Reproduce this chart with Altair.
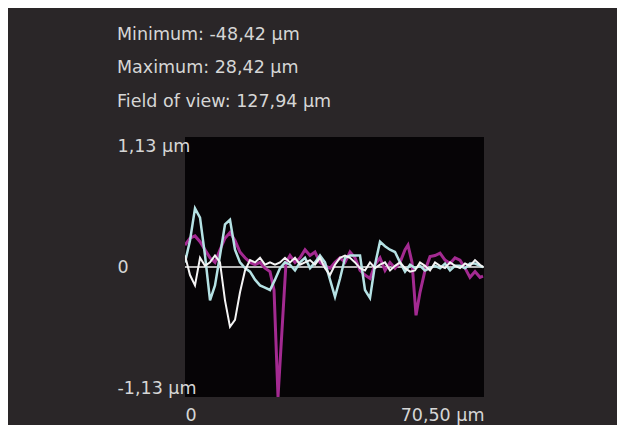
import altair as alt
import pandas as pd

# Shared x positions (µm) for the light-blue and white profiles
x_grid = [0, 1.18, 2.36, 3.54, 4.72, 5.90, 7.07, 8.25, 9.43, 10.61,
          11.79, 12.97, 14.15, 15.33, 16.51, 17.69, 18.86, 20.04, 21.22, 22.40,
          23.58, 24.76, 25.94, 27.12, 28.30, 29.48, 30.65, 31.83, 33.01, 34.19,
          35.37, 36.55, 37.73, 38.91, 40.09, 41.27, 42.44, 43.62, 44.80, 45.98,
          47.16, 48.34, 49.52, 50.70, 51.88, 53.06, 54.23, 55.41, 56.59, 57.77,
          58.95, 60.13, 61.31, 62.49, 63.67, 64.85, 66.03, 67.20, 68.38, 69.56,
          70.27]

cyan_y = [0.04, 0.23, 0.51, 0.43, 0.10, -0.29, -0.16, 0.10, 0.37, 0.41,
          0.15, 0.04, -0.01, -0.04, -0.11, -0.16, -0.18, -0.20, -0.11, -0.01,
          0.04, 0.02, -0.03, 0.04, 0.08, -0.01, 0.04, 0.10, 0.04, -0.11,
          -0.26, -0.10, 0.08, 0.10, 0.10, 0.10, -0.20, -0.27, 0.02, 0.22,
          0.18, 0.15, 0.13, 0.04, -0.04, 0.02, -0.01, 0.01, -0.03, -0.01,
          0.01, -0.01, 0.03, -0.03, 0.01, 0.01, -0.01, 0.03, 0.03, 0.01,
          0.0]

white_y = [0.10, -0.07, -0.16, 0.08, 0.01, 0.04, 0.10, 0.04, -0.29, -0.52,
           -0.46, -0.22, -0.03, 0.06, 0.04, 0.08, 0.02, 0.04, 0.02, 0.04,
           0.08, 0.04, 0.08, 0.02, 0.04, 0.06, 0.02, 0.08, -0.01, -0.07,
           0.02, 0.08, 0.10, 0.08, 0.04, -0.01, -0.03, 0.04, -0.01, 0.02,
           0.04, -0.03, 0.01, 0.04, -0.01, -0.04, -0.03, 0.04, 0.01, -0.03,
           0.04, 0.01, -0.01, 0.04, 0.01, -0.01, 0.03, 0.01, 0.06, 0.02,
           0.0]

magenta_x = [0, 1.18, 2.36, 3.54, 4.72, 5.90, 7.07, 8.25, 9.43, 10.61,
             11.79, 12.97, 14.15, 15.33, 16.51, 17.69, 18.86, 20.04, 20.99, 21.93,
             22.87, 23.82, 24.76, 25.94, 27.12, 28.30, 29.48, 30.65, 31.83, 33.01,
             34.19, 35.37, 36.55, 37.73, 38.91, 40.09, 41.27, 42.44, 43.62, 44.80,
             45.98, 47.16, 48.34, 49.52, 50.70, 51.88, 52.58, 53.53, 54.47, 55.41,
             56.59, 57.77, 58.95, 60.13, 61.31, 62.49, 63.67, 64.85, 66.03, 67.20,
             68.38, 69.56, 70.27]
magenta_y = [0.19, 0.25, 0.27, 0.22, 0.15, 0.08, 0.04, 0.15, 0.25, 0.30,
             0.23, 0.13, 0.08, 0.04, 0.02, 0.04, -0.01, -0.04, -0.20, -1.13,
             -0.55, 0.04, 0.10, 0.04, 0.08, 0.15, 0.10, 0.13, 0.04, 0.01,
             -0.01, 0.04, 0.08, 0.04, 0.13, 0.08, -0.03, -0.07, -0.10, 0.02,
             0.08, -0.03, 0.04, -0.01, 0.04, 0.15, 0.19, 0.04, -0.42, -0.22,
             -0.03, 0.09, 0.10, 0.12, 0.06, 0.03, 0.08, 0.06, -0.01, -0.09,
             -0.04, -0.09, -0.08]

title_lines = ["Minimum: -48,42 µm", "Maximum: 28,42 µm", "Field of view: 127,94 µm"]
y_ticks = [-1.13, 0, 1.13]
x_ticks = [0, 70.5]

series_names = ["magenta", "cyan", "white"]
series_colors = ["#a32a91", "#b5e2e4", "#f4f4f4"]
series_widths = [3.0, 2.0, 2.0]

rows = []
for xv, yv in zip(magenta_x, magenta_y):
    rows.append({"x": xv, "y": yv, "s": "magenta"})
for xv, yv in zip(x_grid, cyan_y):
    rows.append({"x": xv, "y": yv, "s": "cyan"})
for xv, yv in zip(x_grid, white_y):
    rows.append({"x": xv, "y": yv, "s": "white"})
df = pd.DataFrame(rows)
zero_df = pd.DataFrame({"y": [0]})

FONT = "DejaVu Sans"
TXT = "#d6d6d6"
FS = 17.5

xscale = alt.Scale(domain=[0, 70.5], nice=False, zero=False)
yscale = alt.Scale(domain=[-1.13, 1.13], nice=False, zero=False)

label_expr = ("datum.value == 0 ? '0' : (datum.value < 0 ? '-' : '') + "
              "replace(format(abs(datum.value), '.2f'), '.', ',') + ' µm'")

xaxis = alt.Axis(values=x_ticks, labelExpr=label_expr, domain=False, ticks=False,
                 grid=False, labelFlush=True, labelPadding=9, labelFont=FONT,
                 labelFontSize=FS, labelColor=TXT, labelOverlap=False, title=None)
yaxis = alt.Axis(values=y_ticks, labelExpr=label_expr, domain=False, ticks=False,
                 grid=False, labelFlush=True, labelAlign="left", labelPadding=68,
                 labelFont=FONT, labelFontSize=FS, labelColor=TXT,
                 labelOverlap=False, title=None)

zero_rule = alt.Chart(zero_df).mark_rule(color="#f0f0f0", strokeWidth=1.3).encode(
    y=alt.Y("y:Q", scale=yscale, axis=yaxis)
)

lines = alt.Chart(df).mark_line(clip=True).encode(
    x=alt.X("x:Q", scale=xscale, axis=xaxis),
    y=alt.Y("y:Q", scale=yscale, axis=yaxis),
    color=alt.Color("s:N", scale=alt.Scale(domain=series_names, range=series_colors), legend=None),
    strokeWidth=alt.StrokeWidth("s:N", scale=alt.Scale(domain=series_names, range=series_widths), legend=None),
    detail="s:N",
    order=alt.Order("x:Q"),
)

chart = alt.layer(zero_rule, lines).properties(
    width=299,
    height=260,
    background="#2a2628",
    padding={"left": 177, "top": 129, "right": 133, "bottom": 28},
    autosize=alt.AutoSizeParams(type="none"),
    title=alt.TitleParams(text=title_lines, anchor="start", frame="bounds",
                          font=FONT, fontSize=FS, fontWeight="normal",
                          color=TXT, lineHeight=33.5, offset=27),
).configure_view(fill="#060406", stroke=None)

chart.save("out.html", embed_options={"renderer": "svg", "actions": False})
